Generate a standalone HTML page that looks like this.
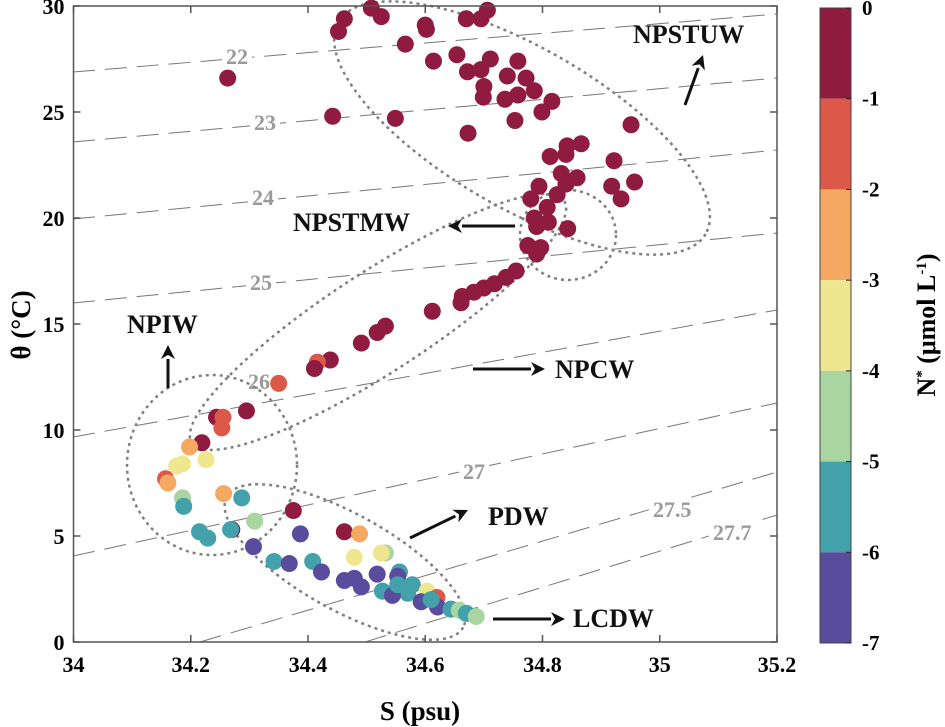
<!DOCTYPE html>
<html><head><meta charset="utf-8"><style>
html,body{margin:0;padding:0;background:#fff;}
svg{display:block;font-family:"Liberation Serif",serif;}
</style></head><body>
<svg id="chart" width="945" height="727" viewBox="0 0 945 727">
<g id="isolines"></g>
<g id="ellipses"></g>
<g id="points"></g>
<g id="axes"></g>
<g id="annot"></g>
<g id="cbar"></g>
</svg>
<script>
const salinity=[34.263,34.508,34.525,34.462,34.452,34.60,34.602,34.67,34.695,34.706,34.566,34.614,34.654,34.672,34.695,34.711,34.758,34.74,34.772,34.786,34.70,34.699,34.736,34.758,34.816,34.799,34.442,34.549,34.753,34.673,34.951,34.813,34.842,34.866,34.84,34.922,34.832,34.859,34.84,34.918,34.934,34.957,34.794,34.825,34.78,34.808,34.786,34.81,34.843,34.79,34.775,34.797,34.79,34.755,34.738,34.718,34.70,34.683,34.663,34.661,34.612,34.532,34.518,34.491,34.438,34.416,34.411,34.35,34.295,34.244,34.255,34.253,34.219,34.198,34.186,34.176,34.226,34.157,34.161,34.186,34.188,34.256,34.287,34.375,34.215,34.229,34.27,34.268,34.309,34.387,34.307,34.462,34.488,34.479,34.532,34.525,34.342,34.368,34.408,34.423,34.462,34.479,34.491,34.518,34.556,34.553,34.578,34.57,34.527,34.544,34.603,34.62,34.593,34.621,34.61,34.644,34.658,34.67,34.687,34.553];
const theta=[26.6,29.9,29.5,29.4,28.8,29.1,28.9,29.4,29.4,29.8,28.2,27.4,27.7,26.9,27.0,27.5,27.4,26.7,26.6,26.0,26.2,25.7,25.6,25.8,25.5,25.0,24.8,24.7,24.6,24.0,24.4,22.9,23.4,23.5,23.0,22.7,22.1,21.9,21.6,21.5,20.9,21.7,21.5,21.1,20.9,20.5,20.0,19.8,19.5,19.6,18.7,18.6,18.3,17.5,17.2,16.9,16.7,16.5,16.3,16.0,15.6,14.9,14.6,14.1,13.3,13.2,12.9,12.2,10.9,10.6,10.6,10.1,9.4,9.2,8.4,8.3,8.6,7.7,7.5,6.8,6.4,7.0,6.8,6.2,5.2,4.9,5.3,5.3,5.7,5.1,4.5,5.2,5.1,4.0,4.2,4.2,3.8,3.7,3.8,3.3,2.9,3.0,2.6,3.2,3.3,3.1,2.7,2.3,2.4,2.2,2.4,2.1,1.9,1.65,2.0,1.55,1.5,1.35,1.2,2.7];
const nstar=[-0.5,-0.5,-0.5,-0.5,-0.5,-0.5,-0.5,-0.5,-0.5,-0.5,-0.5,-0.5,-0.5,-0.5,-0.5,-0.5,-0.5,-0.5,-0.5,-0.5,-0.5,-0.5,-0.5,-0.5,-0.5,-0.5,-0.5,-0.5,-0.5,-0.5,-0.5,-0.5,-0.5,-0.5,-0.5,-0.5,-0.5,-0.5,-0.5,-0.5,-0.5,-0.5,-0.5,-0.5,-0.5,-0.5,-0.5,-0.5,-0.5,-0.5,-0.5,-0.5,-0.5,-0.5,-0.5,-0.5,-0.5,-0.5,-0.5,-0.5,-0.5,-0.5,-0.5,-0.5,-0.5,-1.5,-0.5,-1.5,-0.5,-0.5,-1.5,-1.5,-0.5,-2.5,-3.5,-3.5,-3.5,-1.5,-2.5,-4.5,-5.5,-2.5,-5.5,-0.5,-5.5,-5.5,-0.5,-5.5,-4.5,-6.5,-6.5,-0.5,-2.5,-3.5,-4.5,-3.5,-5.5,-6.5,-5.5,-6.5,-6.5,-6.5,-6.5,-6.5,-5.5,-6.5,-5.5,-5.5,-5.5,-6.5,-3.5,-1.5,-6.5,-6.5,-5.5,-5.5,-4.5,-5.5,-4.5,-5.5];
const xTicks=[34,34.2,34.4,34.6,34.8,35,35.2];
const yTicks=[0,5,10,15,20,25,30];
const cbTicks=[0,-1,-2,-3,-4,-5,-6,-7];
const cbColors=["#8f1b40","#dc5849","#f4a862","#eee78f","#a8d5a0","#42a1aa","#5a4c9c"];
const isoLabels=["22","23","24","25","26","27","27.5","27.7"];

const X0=73.5,X1=777,Y0=642,Y1=6;
const xs=s=>X0+(s-34)/1.2*(X1-X0);
const ys=t=>Y0-t/30*(Y0-Y1);
const NS='http://www.w3.org/2000/svg';
function mk(tag,attrs,parent){const e=document.createElementNS(NS,tag);for(const k in attrs)e.setAttribute(k,attrs[k]);parent.appendChild(e);return e;}
const colorOf=v=>cbColors[Math.min(6,Math.max(0,Math.floor(-v)))];

const iso=document.getElementById('isolines');
const isoGeom=[[73,72,777,14,226,64],[73,142,777,78,254,130],[73,219,777,150,252,205],[73,303,777,233,250,290],[73,437,777,310,248,389],[73,556,777,403,463,479],[200,642,777,472,653,517],[365,642,777,515,713,540]];
isoGeom.forEach((g,i)=>{
  const l=mk('line',{x1:g[0],y1:g[1],x2:g[2],y2:g[3],stroke:'#777','stroke-width':1,'stroke-dasharray':'22 10'},iso);
  
  
  mk('rect',{x:g[4]-4,y:g[5]-18,width:isoLabels[i].length*11+8,height:24,fill:'#fff'},iso);
  const t=mk('text',{x:g[4],y:g[5],fill:'#9a9a9a','font-size':22,'font-weight':'bold'},iso);
  t.textContent=isoLabels[i];
  
  
});

const el=document.getElementById('ellipses');
[['npstuw-ellipse',522,128,212,80,30],['npstmw-ellipse',568,235,48,45,0],['npcw-ellipse',378,322,222,50,-33],['npiw-ellipse',212,465,85,90,0],['pdw-ellipse',345,562,135,48,29]].forEach(e=>{
  const o=mk('ellipse',{cx:e[1],cy:e[2],rx:e[3],ry:e[4],transform:`rotate(${e[5]} ${e[1]} ${e[2]})`,fill:'none',stroke:'#808080','stroke-width':2.5,'stroke-dasharray':'3 4'},el);
  
  
});

const pg=document.getElementById('points');
salinity.forEach((s,i)=>{
  const c=mk('circle',{cx:xs(s),cy:ys(theta[i]),r:8.5,fill:colorOf(nstar[i])},pg);
  
  
});

const ax=document.getElementById('axes');
const fr=mk('rect',{x:X0,y:Y1,width:X1-X0,height:Y0-Y1,fill:'none',stroke:'#555','stroke-width':1.5},ax);


xTicks.forEach(v=>{
  mk('line',{x1:xs(v),x2:xs(v),y1:Y0,y2:Y0-7,stroke:'#555','stroke-width':1.5},ax);
  mk('line',{x1:xs(v),x2:xs(v),y1:Y1,y2:Y1+7,stroke:'#555','stroke-width':1.5},ax);
  const t=mk('text',{x:xs(v),y:672,'text-anchor':'middle','font-size':22,'font-weight':'bold'},ax);
  t.textContent=String(v);
  
  
});
yTicks.forEach(v=>{
  mk('line',{x1:X0,x2:X0+7,y1:ys(v),y2:ys(v),stroke:'#555','stroke-width':1.5},ax);
  mk('line',{x1:X1,x2:X1-7,y1:ys(v),y2:ys(v),stroke:'#555','stroke-width':1.5},ax);
  const t=mk('text',{x:X0-9,y:ys(v)+8,'text-anchor':'end','font-size':22,'font-weight':'bold'},ax);
  t.textContent=String(v);
  
  
});

const an=document.getElementById('annot');
function mk2(tag,attrs){return mk(tag,attrs,an);}
const xt=mk2('text',{x:420,y:720,'text-anchor':'middle','font-size':27,'font-weight':'bold'});xt.textContent='S (psu)';


const yt=mk2('text',{x:0,y:0,transform:'translate(30 325) rotate(-90)','text-anchor':'middle','font-size':27,'font-weight':'bold'});yt.textContent='θ (°C)';


const labels=[['NPSTUW',633,43,[685,105,703,55]],['NPSTMW',293,231,[515,226,448,226]],['NPIW',127,333,[168,388,168,345]],['NPCW',555,378,[473,369,545,369]],['PDW',488,525,[410,538,468,510]],['LCDW',573,627,[493,619,565,619]]];
labels.forEach(l=>{
  const t=mk2('text',{x:l[1],y:l[2],'font-size':26,'font-weight':'bold',fill:'#111'});t.textContent=l[0];
  
  
  const a=l[3],dx=a[2]-a[0],dy=a[3]-a[1],L=Math.hypot(dx,dy),ux=dx/L,uy=dy/L;
  const bx=a[2]-ux*14,by=a[3]-uy*14;
  mk2('line',{x1:a[0],y1:a[1],x2:bx,y2:by,stroke:'#111','stroke-width':3});
  const p=mk2('polygon',{points:`${a[2]},${a[3]} ${bx-uy*7},${by+ux*7} ${bx+ux*4},${by+uy*4} ${bx+uy*7},${by-ux*7}`,fill:'#111'});
  
  
});

const cb=document.getElementById('cbar');
const CB0=8,CB1=643,CX=820,CW=31;
const cy=v=>CB0+(-v)/7*(CB1-CB0);
function mk3(tag,attrs){return mk(tag,attrs,cb);}
cbColors.forEach((c,i)=>{
  const r=mk3('rect',{x:CX,y:cy(-i),width:CW,height:cy(-i-1)-cy(-i),fill:c});
  
  
});
mk3('rect',{x:CX,y:CB0,width:CW,height:CB1-CB0,fill:'none',stroke:'#444','stroke-width':1});
cbTicks.forEach(v=>{
  mk3('line',{x1:CX+CW-5,x2:CX+CW,y1:cy(v),y2:cy(v),stroke:'#222'});
  const t=mk3('text',{x:862,y:cy(v)+7,'font-size':21,'font-weight':'bold'});t.textContent=String(v);
  
  
});
const ct=mk3('text',{x:0,y:0,transform:'translate(935 325) rotate(-90)','text-anchor':'middle','font-size':26,'font-weight':'bold'});
ct.innerHTML='N<tspan dy="-9" font-size="15">*</tspan><tspan dy="9"> (μmol L</tspan><tspan dy="-9" font-size="15">-1</tspan><tspan dy="9">)</tspan>';


</script>
</body></html>
